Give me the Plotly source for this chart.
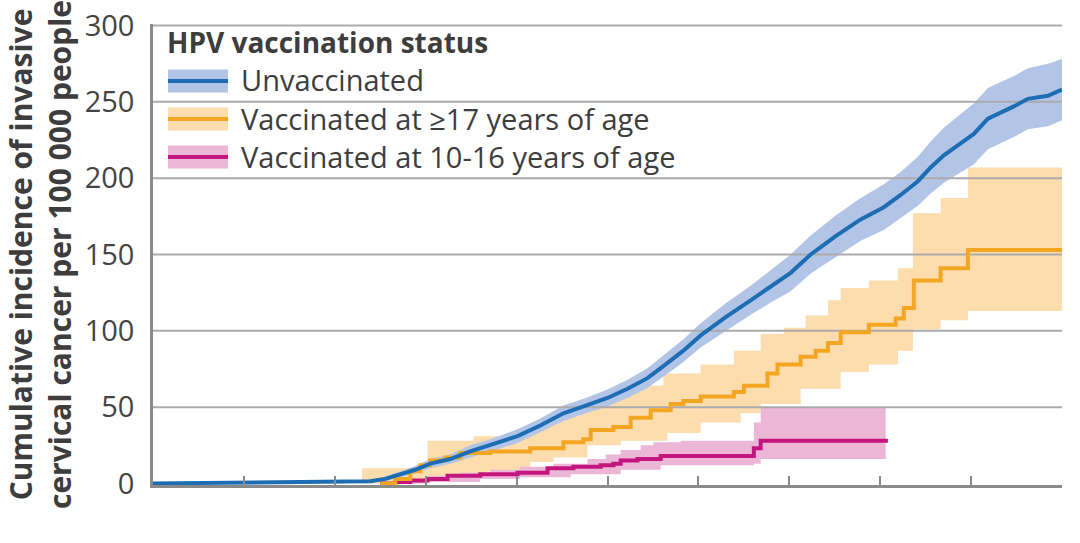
import plotly.graph_objects as go

# ---------------- data ----------------
y_ticks = [0, 50, 100, 150, 200, 250, 300]
x_ticks = [10, 12, 14, 16, 18, 20, 22, 24, 26, 28, 30]

# Unvaccinated
age_unvacc = [10.00, 11.04, 12.14, 13.24, 14.12, 14.78, 15.11, 15.44, 15.77, 16.10, 16.54,
              16.98, 17.42, 18.02, 18.52, 19.03, 19.52, 20.00, 20.44, 20.88, 21.28, 21.67,
              22.05, 22.60, 23.15, 23.59, 24.03, 24.47, 25.02, 25.57, 26.08, 26.45, 26.83,
              27.11, 27.40, 27.73, 28.06, 28.37, 28.66, 28.94, 29.25, 29.69, 30.00]
inc_unvacc = [0, 0.3, 0.5, 0.7, 1.0, 1.5, 3, 6, 9, 13, 16,
              21, 25, 31, 38, 46, 51, 56, 62, 69, 78, 87,
              97, 109, 120, 129, 138, 150, 162, 173, 181, 189, 198,
              207, 215, 222, 229, 239, 243, 247, 252, 254, 258]
lo_unvacc = [0, 0, 0, 0.2, 0.4, 0.5, 1.5, 4, 6.5, 10, 13,
             17, 21, 26.5, 33.5, 41, 46, 50.5, 56, 62.5, 71, 79.5,
             89, 100, 110.5, 118.5, 126, 137.5, 148.5, 159, 166, 174, 182,
             190, 197, 203, 209, 219, 223, 227, 232, 234, 238]
hi_unvacc = [0.5, 0.8, 1.0, 1.2, 1.6, 2.5, 4.5, 8, 11.5, 16, 19,
             25, 29, 35.5, 42.5, 51, 56, 61.5, 68, 75.5, 85, 94.5,
             105, 118, 129.5, 139.5, 150, 162.5, 175.5, 187, 196, 204, 214,
             224, 233, 241, 249, 259, 263, 267, 272, 275, 278]

# Vaccinated at >=17 years of age
age_late = [15.00, 15.33, 15.66, 15.88, 16.10, 16.43, 16.76, 17.42, 18.30, 19.03, 19.47,
            19.63, 20.13, 20.51, 20.95, 21.39, 21.67, 22.05, 22.78, 23.00, 23.52, 23.74,
            24.25, 24.58, 24.85, 25.13, 25.75, 26.34, 26.52, 26.74, 27.33, 27.93, 30.00]
inc_late = [0, 3, 8, 12, 15, 17, 20, 21, 23, 27, 29,
            35, 37, 43, 48, 52, 54, 57, 60, 64, 72, 78,
            83, 87, 92, 99, 104, 108, 115, 133, 141, 153, 153]
age_late_hi = [14.60, 16.04, 17.05, 18.02, 18.52, 19.03, 19.52, 20.00, 20.51, 21.23, 22.05,
               22.78, 23.37, 23.88, 24.36, 24.85, 25.13, 25.75, 26.39, 26.72, 27.33, 27.93, 30.00]
hi_late = [10, 28, 31, 36, 42, 49, 54, 59, 64, 72, 78,
           87, 98, 102, 110, 120, 128, 133, 141, 177, 187, 207, 207]
age_late_lo = [14.60, 16.04, 17.36, 18.30, 18.81, 19.56, 20.29, 21.32, 22.05, 22.93, 23.37,
               24.25, 25.13, 25.75, 26.39, 26.72, 27.33, 27.93, 30.00]
lo_late = [0, 3, 8, 14, 17, 25, 28, 33, 40, 46, 52,
           62, 73, 78, 87, 101, 107, 113, 113]

# Vaccinated at 10-16 years of age
age_early = [15.00, 15.33, 15.66, 16.04, 16.48, 17.20, 18.02, 18.68, 19.25, 19.85, 20.13,
             20.29, 20.66, 21.17, 23.22, 23.37, 26.17]
inc_early = [0, 1, 2, 3, 5, 6, 7, 10, 11, 12, 13,
             15, 16, 18, 23, 28, 28]
age_early_hi = [15.00, 15.44, 16.04, 16.76, 17.42, 18.08, 18.81, 19.56, 19.96, 20.29, 20.73,
                21.01, 21.61, 23.22, 23.37, 26.12]
hi_early = [1, 3, 5, 7, 9, 11, 13, 16, 19, 22, 25,
            27, 28, 40, 50, 50]
age_early_lo = [15.00, 16.04, 17.20, 18.08, 19.19, 20.29, 21.17, 23.22, 23.37, 26.12]
lo_early = [0, 1, 3, 4, 6, 9, 12, 13, 16, 16]

legend_title = "HPV vaccination status"
series_names = ["Unvaccinated", "Vaccinated at ≥17 years of age", "Vaccinated at 10-16 years of age"]

# ---------------- styling ----------------
BLUE, BLUE_BAND = "#1c6db3", "#b3c5e7"
ORANGE, ORANGE_BAND = "#f4a623", "#fddcad"
MAGENTA, PINK_BAND = "#c4157e", "#ecb6d6"
GRID = "#ababab"
AXIS = "#8a8a8a"
TEXT = "#3d3d3d"
FONT = "Open Sans"

W, H = 1080, 543
ML, MR, MT, MB = 153, 18, 24, 58
PW, PH = W - ML - MR, H - MT - MB


def px_x(px):
    return (px - ML) / PW


def px_y(py):
    return (H - MB - py) / PH


fig = go.Figure()


def band(xl, yl, xh, yh, color, shape):
    fig.add_trace(go.Scatter(x=xl, y=yl, mode="lines", line=dict(width=0, shape=shape),
                             showlegend=False, hoverinfo="skip"))
    fig.add_trace(go.Scatter(x=xh, y=yh, mode="lines", line=dict(width=0, shape=shape),
                             fill="tonexty", fillcolor=color, showlegend=False, hoverinfo="skip"))


band(age_late_lo, lo_late, age_late_hi, hi_late, ORANGE_BAND, "hv")
band(age_early_lo, lo_early, age_early_hi, hi_early, PINK_BAND, "hv")
band(age_unvacc, lo_unvacc, age_unvacc, hi_unvacc, BLUE_BAND, "linear")

# grid lines drawn above the bands but below the curves
gx, gy = [], []
for t in y_ticks[1:]:
    gx += [x_ticks[0], x_ticks[-1], None]
    gy += [t, t, None]
fig.add_trace(go.Scatter(x=gx, y=gy, mode="lines", line=dict(color=GRID, width=2),
                         showlegend=False, hoverinfo="skip"))

fig.add_trace(go.Scatter(x=age_early, y=inc_early, mode="lines", name=series_names[2],
                         line=dict(color=MAGENTA, width=4, shape="hv"), showlegend=False))
fig.add_trace(go.Scatter(x=age_late, y=inc_late, mode="lines", name=series_names[1],
                         line=dict(color=ORANGE, width=4, shape="hv"), showlegend=False))
fig.add_trace(go.Scatter(x=age_unvacc, y=inc_unvacc, mode="lines", name=series_names[0],
                         line=dict(color=BLUE, width=4), showlegend=False))

# ---------------- custom legend ----------------
shapes = []
annotations = [dict(text="<b>" + legend_title + "</b>", x=px_x(165), y=px_y(42), xref="paper",
                    yref="paper", xanchor="left", yanchor="middle", showarrow=False,
                    font=dict(family=FONT, size=28, color=TEXT))]
for name, lc, bc, cy in zip(series_names, [BLUE, ORANGE, MAGENTA],
                            [BLUE_BAND, ORANGE_BAND, PINK_BAND], [81, 119, 157]):
    shapes.append(dict(type="rect", xref="paper", yref="paper", x0=px_x(168), x1=px_x(228),
                       y0=px_y(cy + 11.5), y1=px_y(cy - 11.5), fillcolor=bc, line=dict(width=0)))
    shapes.append(dict(type="line", xref="paper", yref="paper", x0=px_x(168), x1=px_x(228),
                       y0=px_y(cy), y1=px_y(cy), line=dict(color=lc, width=4)))
    annotations.append(dict(text=name, x=px_x(239), y=px_y(cy - 1), xref="paper", yref="paper",
                            xanchor="left", yanchor="middle", showarrow=False,
                            font=dict(family=FONT, size=29, color=TEXT)))

fig.update_layout(
    width=W, height=H,
    margin=dict(l=ML, r=MR, t=MT, b=MB, pad=0, autoexpand=False),
    paper_bgcolor="white", plot_bgcolor="white",
    font=dict(family=FONT, color=TEXT),
    shapes=shapes, annotations=annotations,
    showlegend=False,
    xaxis=dict(range=[x_ticks[0], x_ticks[-1]], tickvals=x_ticks, showticklabels=False,
               automargin=False,
               ticks="inside", ticklen=9, tickwidth=2, tickcolor=AXIS,
               showline=True, linecolor=AXIS, linewidth=2.5, showgrid=False, zeroline=False),
    yaxis=dict(range=[-1, 301], tickvals=y_ticks, ticktext=[str(v) for v in y_ticks],
               automargin=False,
               ticks="", showgrid=False, zeroline=False,
               showline=True, linecolor=AXIS, linewidth=2.5,
               tickfont=dict(family=FONT, size=29, color="#444444"),
               ticklabelstandoff=10,
               title=dict(text="<b>Cumulative incidence of invasive<br>cervical cancer per 100 000 people</b>",
                          font=dict(family=FONT, size=30, color=TEXT), standoff=18)),
)

fig.write_html("out.html")
